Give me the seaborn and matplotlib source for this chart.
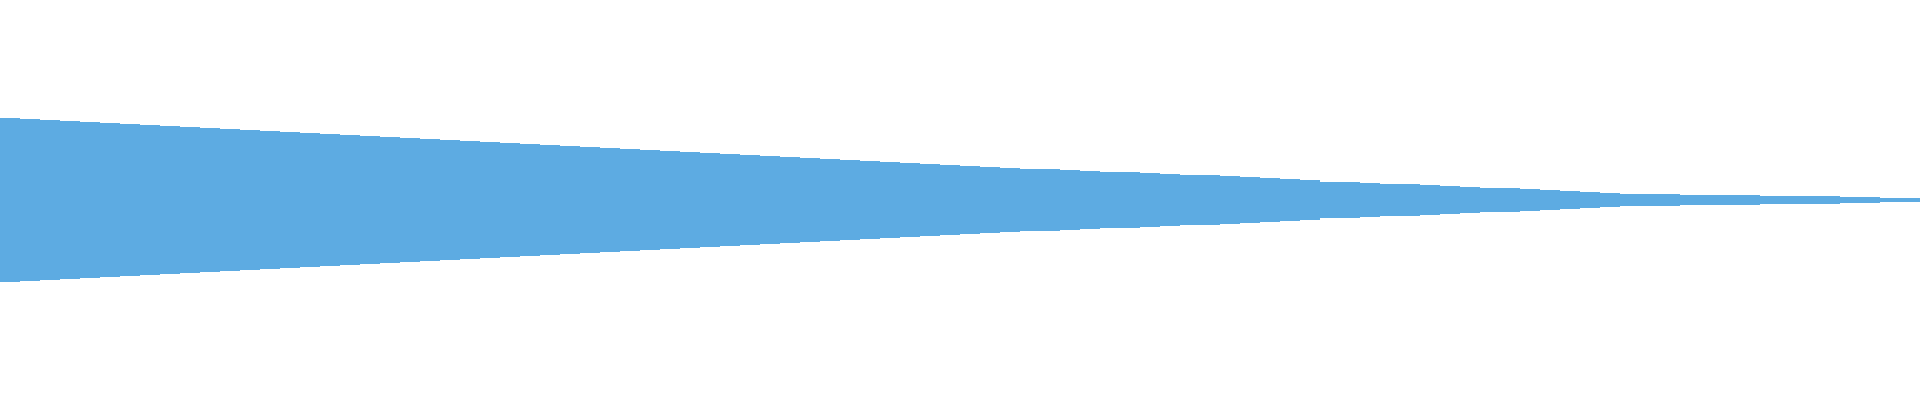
import matplotlib
matplotlib.use("Agg")
import matplotlib.pyplot as plt
import seaborn as sns
import numpy as np
import pandas as pd

# Waveform peak envelope, one value per 20 px column (96 columns across the track)
segment_index = list(range(96))
peak_amplitude = [
    0.408, 0.403, 0.398, 0.393, 0.388, 0.383, 0.378, 0.373,
    0.368, 0.363, 0.358, 0.353, 0.348, 0.343, 0.338, 0.333,
    0.328, 0.325, 0.321, 0.317, 0.312, 0.306, 0.300, 0.293,
    0.288, 0.283, 0.278, 0.273, 0.268, 0.265, 0.261, 0.257,
    0.248, 0.243, 0.238, 0.233, 0.228, 0.223, 0.218, 0.213,
    0.208, 0.203, 0.198, 0.193, 0.188, 0.183, 0.178, 0.173,
    0.168, 0.165, 0.161, 0.157, 0.153, 0.150, 0.146, 0.142,
    0.138, 0.135, 0.131, 0.127, 0.123, 0.120, 0.116, 0.112,
    0.103, 0.098, 0.092, 0.089, 0.086, 0.082, 0.078, 0.074,
    0.070, 0.066, 0.062, 0.058, 0.054, 0.049, 0.045, 0.042,
    0.033, 0.032, 0.030, 0.028, 0.027, 0.026, 0.025, 0.024,
    0.022, 0.020, 0.019, 0.018, 0.016, 0.014, 0.012, 0.008,
]

wave_color = "#5DABE2"

sns.set_theme(style="white")
fig = plt.figure(figsize=(19.2, 4.0), dpi=100)
ax = fig.add_axes([0, 0, 1, 1])

df = pd.DataFrame({"seg": segment_index, "amp": peak_amplitude})
df["neg"] = -df["amp"]

common = dict(color=wave_color, saturation=1, width=1.0, linewidth=0,
              edgecolor=wave_color, errorbar=None, ax=ax)
sns.barplot(data=df, x="seg", y="amp", **common)
sns.barplot(data=df, x="seg", y="neg", **common)

ax.set_xlim(-0.5, len(segment_index) - 0.5)
ax.set_ylim(-1, 1)
ax.set_axis_off()
fig.patch.set_facecolor("white")
fig.savefig("out.png", dpi=100, facecolor="white")
